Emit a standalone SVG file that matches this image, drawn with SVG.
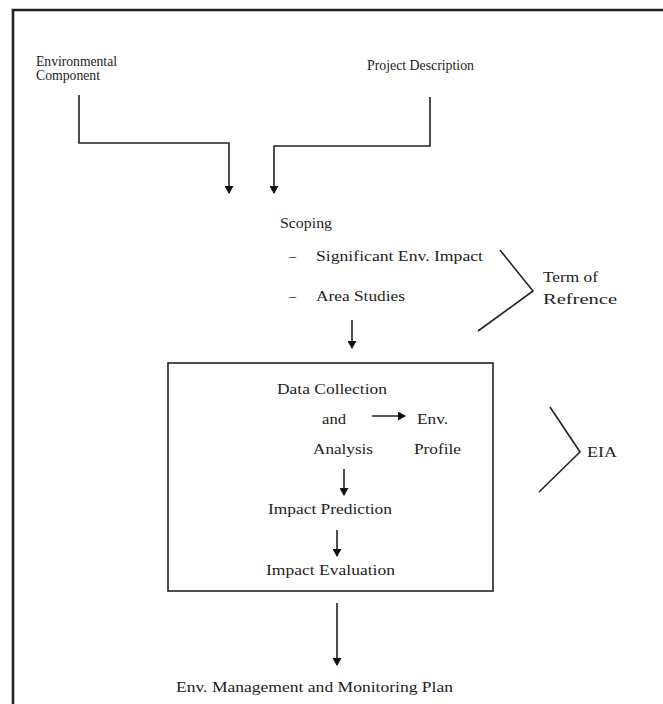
<svg xmlns="http://www.w3.org/2000/svg" width="663" height="704" viewBox="0 0 663 704">
<style>
text{font-family:"Liberation Serif","Times New Roman",serif;font-size:14px;fill:#222;}
.ln{stroke:#222;stroke-width:1.6;fill:none;}
.fr{stroke:#222;stroke-width:2.6;fill:none;}
</style>
<defs>
<marker id="ah" markerWidth="8" markerHeight="9" refX="7" refY="4.5" orient="auto" markerUnits="userSpaceOnUse">
<path d="M0,0 L8,4.5 L0,9 Z" fill="#111"/>
</marker>
</defs>
<rect width="663" height="704" fill="#fff"/>
<path class="fr" d="M13,704 V10 H663"/>
<g id="connectors">
<path class="ln" d="M79,95 V143 H229 V193" marker-end="url(#ah)"/>
<path class="ln" d="M430,97 V146 H274 V193" marker-end="url(#ah)"/>
<path class="ln" d="M352,320 V348" marker-end="url(#ah)"/>
<path class="ln" d="M372,416 H405" marker-end="url(#ah)"/>
<path class="ln" d="M344,469 V495" marker-end="url(#ah)"/>
<path class="ln" d="M337,530 V556" marker-end="url(#ah)"/>
<path class="ln" d="M337,603 V665" marker-end="url(#ah)"/>
</g>
<g id="env-component">
<text x="36" y="66" textLength="81" lengthAdjust="spacingAndGlyphs">Environmental</text>
<text x="36" y="80" textLength="64" lengthAdjust="spacingAndGlyphs">Component</text>
</g>
<g id="project-description">
<text x="367" y="70" textLength="107" lengthAdjust="spacingAndGlyphs">Project Description</text>
</g>
<g id="scoping">
<text x="280" y="228" textLength="52" lengthAdjust="spacingAndGlyphs">Scoping</text>
<text x="289" y="261">–</text>
<text x="316" y="261" textLength="167" lengthAdjust="spacingAndGlyphs">Significant Env. Impact</text>
<text x="289" y="301">–</text>
<text x="316" y="301" textLength="89" lengthAdjust="spacingAndGlyphs">Area Studies</text>
</g>
<g id="term-of-reference">
<path class="ln" d="M500,250 L533,291 L478,331"/>
<text x="543" y="282" textLength="55" lengthAdjust="spacingAndGlyphs">Term of</text>
<text x="543" y="304" textLength="74" lengthAdjust="spacingAndGlyphs">Refrence</text>
</g>
<g id="eia-box">
<rect class="ln" x="168" y="363" width="325" height="228"/>
<text x="277" y="394" textLength="110" lengthAdjust="spacingAndGlyphs">Data Collection</text>
<text x="322" y="424" textLength="24" lengthAdjust="spacingAndGlyphs">and</text>
<text x="313" y="454" textLength="60" lengthAdjust="spacingAndGlyphs">Analysis</text>
</g>
<g id="env-profile">
<text x="417" y="424" textLength="31" lengthAdjust="spacingAndGlyphs">Env.</text>
<text x="414" y="454" textLength="47" lengthAdjust="spacingAndGlyphs">Profile</text>
</g>
<g id="impact-prediction">
<text x="268" y="514" textLength="124" lengthAdjust="spacingAndGlyphs">Impact Prediction</text>
</g>
<g id="impact-evaluation">
<text x="266" y="575" textLength="129" lengthAdjust="spacingAndGlyphs">Impact Evaluation</text>
</g>
<g id="eia">
<path class="ln" d="M550,407 L580,452 L539,492"/>
<text x="587" y="457" textLength="30" lengthAdjust="spacingAndGlyphs">EIA</text>
</g>
<g id="emmp">
<text x="176" y="692" textLength="277" lengthAdjust="spacingAndGlyphs">Env. Management and Monitoring Plan</text>
</g>
</svg>
